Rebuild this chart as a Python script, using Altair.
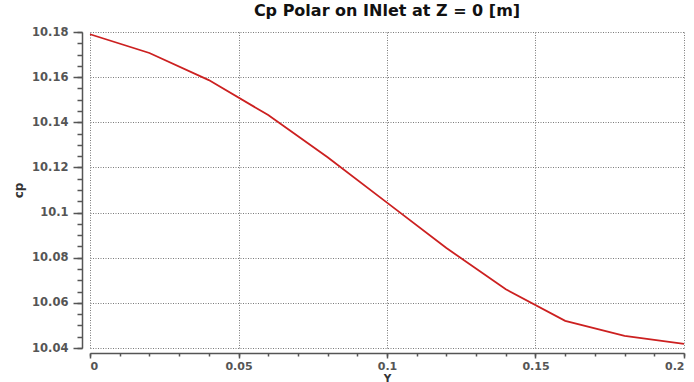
import altair as alt
import pandas as pd

# Data
y_pos = [0.0, 0.02, 0.04, 0.06, 0.08, 0.10, 0.12, 0.14, 0.16, 0.18, 0.20]
cp = [10.179, 10.1707, 10.1587, 10.1432, 10.1245, 10.1044, 10.0843, 10.066, 10.052, 10.0454, 10.0418]

x_major = [0, 0.05, 0.1, 0.15, 0.2]
y_major = [10.04, 10.06, 10.08, 10.1, 10.12, 10.14, 10.16, 10.18]
x_minor = [round(i * 0.01, 3) for i in range(0, 21)]
y_minor = [round(10.04 + i * 0.005, 4) for i in range(0, 29)]

df = pd.DataFrame({"Y": y_pos, "cp": cp})

FONT = "DejaVu Sans"
AX = "#555555"

xscale = alt.Scale(domain=[0, 0.2], nice=False, zero=False)
yscale = alt.Scale(domain=[10.04, 10.18], nice=False, zero=False)

base = alt.Chart(df)

major = base.mark_line(color="#cc2020", strokeWidth=1.8).encode(
    x=alt.X("Y:Q", scale=xscale, axis=alt.Axis(
        values=x_major, format=".2~f", orient="bottom", offset=5,
        grid=True, gridDash=[1, 1.5], gridColor="#7a7a7a", gridWidth=1,
        domainColor=AX, domainWidth=1.5, tickColor=AX, tickWidth=1.5, tickSize=5,
        labelFont=FONT, labelFontSize=11, labelFontWeight="bold", labelColor="#555555",
        labelPadding=2, title="Y", titleFont=FONT, titleFontSize=10.5,
        titleFontWeight="bold", titleColor="#333333",
        titleY=28, titleBaseline="alphabetic")),
    y=alt.Y("cp:Q", scale=yscale, axis=alt.Axis(
        values=y_major, format=".2~f", orient="left", offset=8,
        grid=True, gridDash=[1, 1.5], gridColor="#7a7a7a", gridWidth=1,
        domainColor=AX, domainWidth=1.5, tickColor=AX, tickWidth=1.5, tickSize=9,
        labelFont=FONT, labelFontSize=11.5, labelFontWeight="bold", labelColor="#555555",
        labelPadding=5, title="cp", titleFont=FONT, titleFontSize=12,
        titleFontWeight="bold", titleColor="#333333", titlePadding=6)),
)

minor = base.mark_line(strokeOpacity=0).encode(
    x=alt.X("Y:Q", scale=xscale, axis=alt.Axis(
        values=x_minor, orient="bottom", offset=5, grid=False, domain=False,
        labels=False, title=None, tickColor=AX, tickWidth=1.5, tickSize=3)),
    y=alt.Y("cp:Q", scale=yscale, axis=alt.Axis(
        values=y_minor, orient="left", offset=8, grid=False, domain=False,
        labels=False, title=None, tickColor=AX, tickWidth=1.5, tickSize=5)),
)

chart = alt.layer(major, minor).resolve_axis(x="independent", y="independent").properties(
    width=594, height=316,
    autosize=alt.AutoSizeParams(type="none"),
    padding={"left": 90, "top": 32, "right": 10, "bottom": 34},
    title=alt.TitleParams("Cp Polar on INlet at Z = 0 [m]", font=FONT, fontSize=16,
                          fontWeight="bold", color="#111111", anchor="middle", offset=7),
    background="white",
).configure_view(stroke=None)

chart.save("out.html", embed_options={"renderer": "svg", "actions": False})
